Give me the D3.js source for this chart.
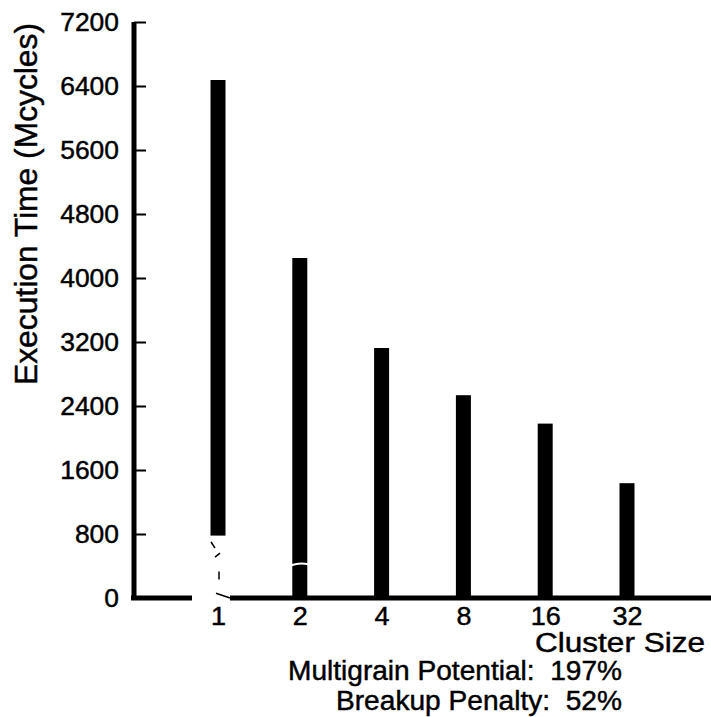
<!DOCTYPE html>
<html>
<head>
<meta charset="utf-8">
<script src="https://cdn.jsdelivr.net/npm/d3@7/dist/d3.min.js"></script>
<style>
  html, body { margin: 0; padding: 0; background: #fff; }
  svg { display: block; }
  text { font-family: "Liberation Sans", Arial, Helvetica, sans-serif; fill: #000; white-space: pre;
         stroke: #000; stroke-width: 0.45px; }
</style>
</head>
<body>
<script>
// Execution time per cluster size
const clusterSizes = ["1", "2", "4", "8", "16", "32"];
const execTimes = [6475, 4250, 3125, 2535, 2180, 1435];
const yTicks = [0, 800, 1600, 2400, 3200, 4000, 4800, 5600, 6400, 7200];
const yTitle = "Execution Time (Mcycles)";
const xTitle = "Cluster Size";
const notes = ["Multigrain Potential:  197%", "Breakup Penalty:  52%"];

const W = 711, H = 717;
const svg = d3.select("body").append("svg").attr("width", W).attr("height", H);

const y = d3.scaleLinear().domain([0, 7200]).range([598, 22]);
const x = d3.scalePoint().domain(clusterSizes).range([218, 627]);
const barW = 15;
const axisX = 134;

// bars
svg.append("g").selectAll("rect")
  .data(clusterSizes.map((c, i) => ({ c, v: execTimes[i] })))
  .join("rect")
  .attr("x", d => x(d.c) - barW / 2)
  .attr("y", d => y(d.v))
  .attr("width", barW)
  .attr("height", d => y(0) - y(d.v))
  .attr("fill", "#000");

// worn patch at the foot of the first bar and along the baseline beside it
const x1 = x(clusterSizes[0]);
svg.append("rect")
  .attr("x", x1 - 12).attr("y", y(780))
  .attr("width", 24).attr("height", y(0) - y(780) + 4)
  .attr("fill", "#fff");
svg.append("path")
  .attr("d", `M${x1 - 7},${y(700)} l4,6 M${x1 + 2},${y(560)} l-5,4 M${x1 + 1},${y(330)} l0,8 M${x1 - 2},${y(60)} l14,${y(0) - y(60)}`)
  .attr("stroke", "#000").attr("stroke-width", 1.5).attr("fill", "none");
// thin crack across the second bar
svg.append("path")
  .attr("d", `M${x("2") - barW / 2 - 1},${y(410)} q${barW / 2 + 1},-3 ${barW + 2},-1`)
  .attr("stroke", "#fff").attr("stroke-width", 2).attr("fill", "none");

// baseline
svg.append("line")
  .attr("x1", axisX - 3).attr("x2", x1 - 26)
  .attr("y1", y(0)).attr("y2", y(0))
  .attr("stroke", "#000").attr("stroke-width", 5);
svg.append("line")
  .attr("x1", x1 + 12).attr("x2", W)
  .attr("y1", y(0)).attr("y2", y(0))
  .attr("stroke", "#000").attr("stroke-width", 5);

// y axis
const yAxis = d3.axisLeft(y)
  .tickValues(yTicks)
  .tickSize(-12)
  .tickSizeOuter(0)
  .tickPadding(15)
  .tickFormat(d3.format("d"));
const gy = svg.append("g").attr("transform", `translate(${axisX},0)`).call(yAxis);
gy.select(".domain").attr("stroke", "#000").attr("stroke-width", 5)
  .attr("d", `M0,${y(0) + 2}V${y(7200)}`);
gy.selectAll(".tick line").attr("stroke", "#000").attr("stroke-width", 2);
gy.selectAll(".tick text")
  .style("font-size", "25px")
  .attr("textLength", d => String(d).length * 14.7)
  .attr("lengthAdjust", "spacingAndGlyphs")
  .attr("fill", "#000");

// x axis labels
const xAxis = d3.axisBottom(x).tickSize(0).tickPadding(9);
const gx = svg.append("g").attr("transform", `translate(0,${y(0)})`).call(xAxis);
gx.select(".domain").remove();
gx.selectAll(".tick text")
  .style("font-size", "25px")
  .attr("textLength", d => d.length * 15)
  .attr("lengthAdjust", "spacingAndGlyphs")
  .attr("fill", "#000");

// titles
svg.append("text")
  .attr("transform", `translate(37,${204}) rotate(-90)`)
  .attr("text-anchor", "middle")
  .attr("textLength", 362)
  .attr("lengthAdjust", "spacingAndGlyphs")
  .style("font-size", "31px")
  .text(yTitle);

svg.append("text")
  .attr("x", 705).attr("y", 652)
  .attr("text-anchor", "end")
  .attr("textLength", 170)
  .attr("lengthAdjust", "spacingAndGlyphs")
  .style("font-size", "27px")
  .text(xTitle);

svg.append("text")
  .attr("x", 622).attr("y", 680)
  .attr("text-anchor", "end")
  .attr("textLength", 334)
  .attr("lengthAdjust", "spacingAndGlyphs")
  .style("font-size", "27px")
  .text(notes[0]);
svg.append("text")
  .attr("x", 622).attr("y", 710)
  .attr("text-anchor", "end")
  .attr("textLength", 286)
  .attr("lengthAdjust", "spacingAndGlyphs")
  .style("font-size", "27px")
  .text(notes[1]);
</script>
</body>
</html>
